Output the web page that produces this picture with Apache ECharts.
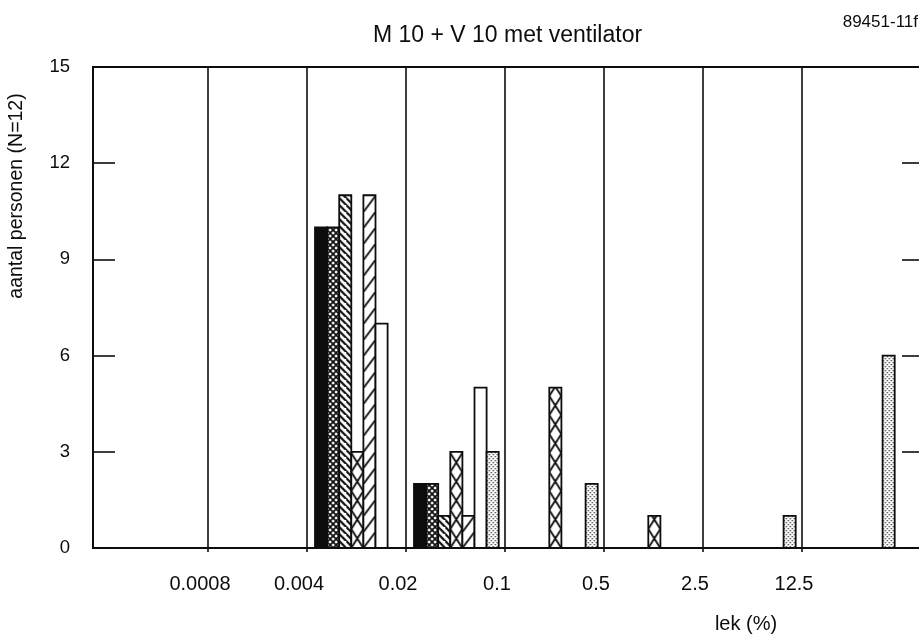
<!DOCTYPE html>
<html>
<head>
<meta charset="utf-8">
<title>M 10 + V 10 met ventilator</title>
<script src="https://cdn.jsdelivr.net/npm/echarts@6/dist/echarts.min.js"></script>
<style>
  html, body { margin: 0; padding: 0; background: #ffffff; }
  #chart { width: 919px; height: 638px; }
</style>
</head>
<body>
<div id="chart"></div>
<script>
// Klassegrenzen van het lek (%): rechterrand van vak 0..6
const lekGrenzen = ['0.0008', '0.004', '0.02', '0.1', '0.5', '2.5', '12.5'];
const grensPosities = [1, 2, 3, 4, 5, 6, 7];

// Vakken: 0 = < 0.0008, 1 = 0.0008-0.004, ..., 7 = > 12.5
const vakken = [0, 1, 2, 3, 4, 5, 6, 7];

// Aantal personen per vak, per meting (N = 12)
const meting1 = [0, 0, 10, 2, 0, 0, 0, 0];
const meting2 = [0, 0, 10, 2, 0, 0, 0, 0];
const meting3 = [0, 0, 11, 1, 0, 0, 0, 0];
const meting4 = [0, 0, 3, 3, 5, 1, 0, 0];
const meting5 = [0, 0, 11, 1, 0, 0, 0, 0];
const meting6 = [0, 0, 7, 5, 0, 0, 0, 0];
const meting7 = [0, 0, 0, 3, 2, 0, 1, 6];

const yTicks = [0, 3, 6, 9, 12, 15];

const metingen = [meting1, meting2, meting3, meting4, meting5, meting6, meting7];
const vullingen = ['zwart', 'ruit', 'schuin', 'kruis', 'streep', 'wit', 'stip'];

const INKT = '#0d0d0d';
const FONT = '"Liberation Sans", Arial, sans-serif';

// Balkindeling binnen een vak (in as-eenheden)
const BALK_START = 8 / 99;
const BALK_BREEDTE = 12.1 / 99;

function tegel(w, h, teken) {
  const c = document.createElement('canvas');
  c.width = w; c.height = h;
  const ctx = c.getContext('2d');
  ctx.fillStyle = '#ffffff';
  ctx.fillRect(0, 0, w, h);
  ctx.strokeStyle = INKT;
  ctx.fillStyle = INKT;
  teken(ctx, w, h);
  return c;
}

function lijn(ctx, pts, lw) {
  ctx.lineWidth = lw;
  ctx.beginPath();
  for (let i = 0; i < pts.length; i += 2) {
    ctx.moveTo(pts[i][0], pts[i][1]);
    ctx.lineTo(pts[i + 1][0], pts[i + 1][1]);
  }
  ctx.stroke();
}

const tegels = {
  ruit: tegel(6, 6, (ctx, w, h) => lijn(ctx, [[-1, -1], [w + 1, h + 1], [w + 1, -1], [-1, h + 1]], 1.7)),
  schuin: tegel(7, 7, (ctx, w, h) => lijn(ctx, [[-1, -1], [w + 1, h + 1], [-w - 1, -1], [1, h + 1], [w - 1, -h - 1], [2 * w + 1, h + 1]], 2.2)),
  streep: tegel(12, 16, (ctx, w, h) => lijn(ctx, [[-1, h + 1.33], [w + 1, -1.33]], 1.8)),
  kruis: tegel(12, 19, (ctx, w, h) => lijn(ctx, [[0, 0], [w, h], [w, 0], [0, h]], 1.8)),
  stip: tegel(4, 4, (ctx) => { ctx.fillStyle = '#333333'; ctx.fillRect(0, 0, 1.3, 1.3); ctx.fillRect(2, 2, 1.3, 1.3); })
};

function vulling(soort, x, y) {
  if (soort === 'zwart') return INKT;
  if (soort === 'wit') return '#ffffff';
  return { image: tegels[soort], repeat: 'repeat', x: x, y: y };
}

function balkRenderer(j) {
  return function (params, api) {
    const vak = api.value(0);
    const n = api.value(1);
    if (!n) return null;
    const x0 = vak + BALK_START + j * BALK_BREEDTE;
    const p0 = api.coord([x0, 0]);
    const p1 = api.coord([x0 + BALK_BREEDTE, n]);
    const w = p1[0] - p0[0];
    const h = p0[1] - p1[1];
    return {
      type: 'rect',
      shape: { x: p0[0], y: p1[1], width: w, height: h },
      style: {
        fill: vulling(vullingen[j], p0[0], p0[1]),
        stroke: INKT,
        lineWidth: 1.8
      }
    };
  };
}

const chart = echarts.init(document.getElementById('chart'), null, { renderer: 'canvas' });

const series = metingen.map((waarden, j) => ({
  type: 'custom',
  name: 'meting ' + (j + 1),
  renderItem: balkRenderer(j),
  data: vakken.map((v, i) => [v, waarden[i]]),
  clip: false,
  z: 3
}));

const option = {
  backgroundColor: '#ffffff',
  animation: false,
  textStyle: { fontFamily: FONT, color: INKT },
  title: {
    text: 'M 10 + V 10 met ventilator',
    left: 368, top: 19,
    textStyle: { fontFamily: FONT, fontSize: 23, fontWeight: 'normal', color: INKT }
  },
  graphic: [
    {
      type: 'text', x: 918, y: 22,
      style: { text: '89451-11f', font: '17px ' + FONT, fill: INKT, align: 'right', verticalAlign: 'middle' }
    },
    {
      type: 'text', x: 17, y: 196, rotation: Math.PI / 2,
      style: { text: 'aantal personen (N=12)', font: '19.5px ' + FONT, fill: INKT, align: 'center', verticalAlign: 'middle' }
    },
    {
      type: 'text', x: 746, y: 624,
      style: { text: 'lek (%)', font: '20px ' + FONT, fill: INKT, align: 'center', verticalAlign: 'middle' }
    }
  ],
  grid: {
    left: 93, top: 67, width: 829, bottom: 90,
    outerBoundsMode: 'none',
    containLabel: false,
    show: true, borderColor: INKT, borderWidth: 2, backgroundColor: 'transparent'
  },
  xAxis: {
    type: 'value',
    min: -0.1616, max: 8.2121,
    axisLine: { show: true, onZero: false, lineStyle: { color: INKT, width: 2 } },
    axisTick: { show: true, customValues: grensPosities, length: 4, inside: false, lineStyle: { color: INKT, width: 1.6 } },
    splitLine: { show: true, lineStyle: { color: INKT, width: 1.6 } },
    axisLabel: {
      customValues: grensPosities,
      formatter: (v) => lekGrenzen[grensPosities.indexOf(Math.round(v))],
      fontFamily: FONT, fontSize: 20, color: INKT, margin: 26,
      padding: [0, 16, 0, 0]
    }
  },
  yAxis: [
    {
      type: 'value', min: 0, max: 15, interval: 3, position: 'left',
      axisLine: { show: true, onZero: false, lineStyle: { color: INKT, width: 2 } },
      axisTick: { show: true, inside: true, length: 22, lineStyle: { color: INKT, width: 1.6 } },
      splitLine: { show: false },
      axisLabel: {
        formatter: (v) => String(yTicks[yTicks.indexOf(v)]),
        fontFamily: FONT, fontSize: 18.5, color: INKT, margin: 23
      }
    },
    {
      type: 'value', min: 0, max: 15, interval: 3, position: 'right',
      axisLine: { show: true, onZero: false, lineStyle: { color: INKT, width: 2 } },
      axisTick: { show: true, inside: true, length: 20, lineStyle: { color: INKT, width: 1.6 } },
      splitLine: { show: false },
      axisLabel: { show: false }
    }
  ],
  series: series
};

chart.setOption(option);
</script>
</body>
</html>
